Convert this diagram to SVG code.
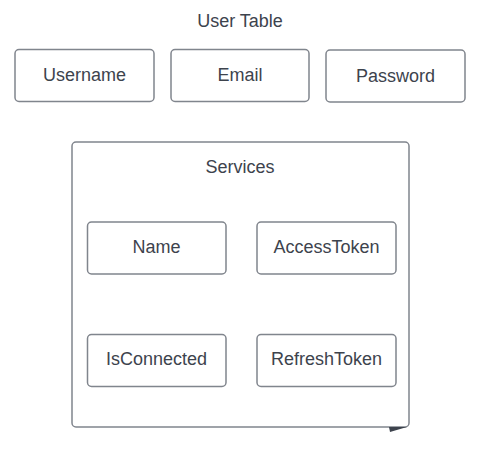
<svg xmlns="http://www.w3.org/2000/svg" width="480" height="461" viewBox="0 0 480 461">
<style>
.box{fill:#fff;stroke:#80858d;stroke-width:1.5}
.t{font-family:"Liberation Sans",Arial,sans-serif;font-size:18px;fill:#3d434d;text-anchor:middle}
</style>
<rect width="480" height="461" fill="#fff"/>
<text class="t" x="240" y="27">User Table</text>
<g id="username"><rect class="box" x="15" y="49.5" width="139" height="52" rx="4"/><text class="t" x="84.5" y="81">Username</text></g>
<g id="email"><rect class="box" x="171" y="49.5" width="138" height="52" rx="4"/><text class="t" x="240" y="81">Email</text></g>
<g id="password"><rect class="box" x="326" y="50" width="139" height="52" rx="4"/><text class="t" x="395.5" y="82">Password</text></g>
<g id="services"><rect class="box" x="72" y="142" width="337" height="285" rx="4"/><text class="t" x="240" y="172.5">Services</text>
<polygon points="389,427 407,427 390,432" fill="#3d434d"/></g>
<g id="name"><rect class="box" x="87.5" y="222" width="138.5" height="52" rx="4"/><text class="t" x="156.5" y="253">Name</text></g>
<g id="accesstoken"><rect class="box" x="257" y="222" width="139" height="52" rx="4"/><text class="t" x="326.5" y="253">AccessToken</text></g>
<g id="isconnected"><rect class="box" x="87.5" y="334.5" width="138.5" height="52" rx="4"/><text class="t" x="156.5" y="365">IsConnected</text></g>
<g id="refreshtoken"><rect class="box" x="257" y="334.5" width="139" height="52" rx="4"/><text class="t" x="326.5" y="365">RefreshToken</text></g>
<g id="connectors"></g>
</svg>
